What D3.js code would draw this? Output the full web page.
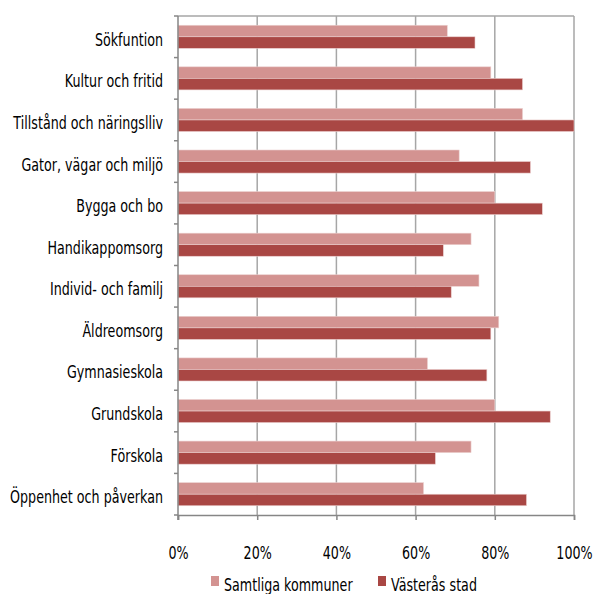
<!DOCTYPE html>
<html>
<head>
<meta charset="utf-8">
<script src="https://cdn.jsdelivr.net/npm/d3@7.9.0/dist/d3.min.js"></script>
<style>
  body { margin: 0; background: #fff; }
  svg text { font-family: "DejaVu Sans", sans-serif; fill: #000; }
</style>
</head>
<body>
<svg width="594" height="594"></svg>
<script>
const categories = [
  'Sökfuntion', 'Kultur och fritid', 'Tillstånd och näringslliv', 'Gator, vägar och miljö',
  'Bygga och bo', 'Handikappomsorg', 'Individ- och familj', 'Äldreomsorg',
  'Gymnasieskola', 'Grundskola', 'Förskola', 'Öppenhet och påverkan'
];
const samtliga = [68, 79, 87, 71, 80, 74, 76, 81, 63, 80, 74, 62];
const vasteras = [75, 87, 100, 89, 92, 67, 69, 79, 78, 94, 65, 88];
const seriesNames = ['Samtliga kommuner', 'Västerås stad'];
const seriesColors = ['#d39391', '#a94744'];
const xTicks = [0, 20, 40, 60, 80, 100];

const svg = d3.select('svg');
const plotLeft = 178, plotRight = 574, plotTop = 16, plotBottom = 515;
const fontSize = 17;

const x = d3.scaleLinear().domain([0, 100]).range([plotLeft, plotRight]);
const y = d3.scaleBand().domain(categories).range([plotTop, plotBottom]).paddingInner(0.445).paddingOuter(0.2225);
const inner = d3.scaleBand().domain([0, 1]).range([0, y.bandwidth()]);

// gridlines
svg.append('g')
  .selectAll('line')
  .data(xTicks.slice(1))
  .join('line')
  .attr('x1', d => x(d)).attr('x2', d => x(d))
  .attr('y1', plotTop).attr('y2', plotBottom)
  .attr('stroke', '#a6a6a6').attr('stroke-width', 1.5);

svg.append('line')
  .attr('x1', plotLeft).attr('x2', plotRight).attr('y1', plotTop).attr('y2', plotTop)
  .attr('stroke', '#a6a6a6').attr('stroke-width', 1.5);

// bars
const rows = categories.map((c, i) => ({ cat: c, vals: [samtliga[i], vasteras[i]] }));
svg.append('g')
  .selectAll('g')
  .data(rows)
  .join('g')
  .attr('transform', d => `translate(0,${y(d.cat)})`)
  .selectAll('rect')
  .data(d => d.vals.map((v, k) => ({ v, k })))
  .join('rect')
  .attr('x', x(0))
  .attr('y', d => inner(d.k))
  .attr('width', d => x(d.v) - x(0))
  .attr('height', inner.bandwidth())
  .attr('fill', d => seriesColors[d.k])
  .attr('stroke', '#ecd0cf').attr('stroke-width', 0.6);

// category labels (drawn first so we can measure the widest one)
const yLabels = svg.append('g')
  .selectAll('text')
  .data(categories)
  .join('text')
  .attr('text-anchor', 'end')
  .attr('dy', '0.35em')
  .attr('font-size', fontSize)
  .text(d => d);

// squeeze text horizontally to mimic a narrow font
const widest = d3.max(yLabels.nodes(), n => n.getComputedTextLength());
const sx = 153 / widest;

yLabels.attr('transform', d => `translate(163,${y(d) + y.bandwidth() / 2 + 3}) scale(${sx},1)`);

// x axis
const xAxis = svg.append('g')
  .attr('transform', `translate(0,${plotBottom})`)
  .call(d3.axisBottom(x).tickValues(xTicks).tickFormat(d => d + '%').tickSize(5).tickPadding(27));
xAxis.attr('font-family', null);
xAxis.select('.domain').attr('stroke', '#868686').attr('stroke-width', 1.5);
xAxis.selectAll('line').attr('stroke', '#868686').attr('stroke-width', 1.5);
xAxis.selectAll('text').attr('font-size', fontSize).attr('transform', `scale(${sx},1)`);

// y axis
const yTickPos = d3.range(categories.length + 1).map(i => plotTop + i * (plotBottom - plotTop) / categories.length);
svg.append('line')
  .attr('x1', plotLeft).attr('x2', plotLeft).attr('y1', plotTop).attr('y2', plotBottom + 5)
  .attr('stroke', '#868686').attr('stroke-width', 1.5);
svg.append('g')
  .selectAll('line')
  .data(yTickPos)
  .join('line')
  .attr('x1', plotLeft - 4).attr('x2', plotLeft)
  .attr('y1', d => d).attr('y2', d => d)
  .attr('stroke', '#868686').attr('stroke-width', 1.5);

// legend
const legendX = [211, 378];
const legend = svg.append('g');
seriesNames.forEach((name, k) => {
  legend.append('rect')
    .attr('x', legendX[k]).attr('y', 576).attr('width', 8).attr('height', 10)
    .attr('fill', seriesColors[k]);
  legend.append('text')
    .attr('transform', `translate(${legendX[k] + 13},585) scale(${sx},1)`)
    .attr('dy', '0.35em')
    .attr('font-size', fontSize)
    .text(name);
});
</script>
</body>
</html>
